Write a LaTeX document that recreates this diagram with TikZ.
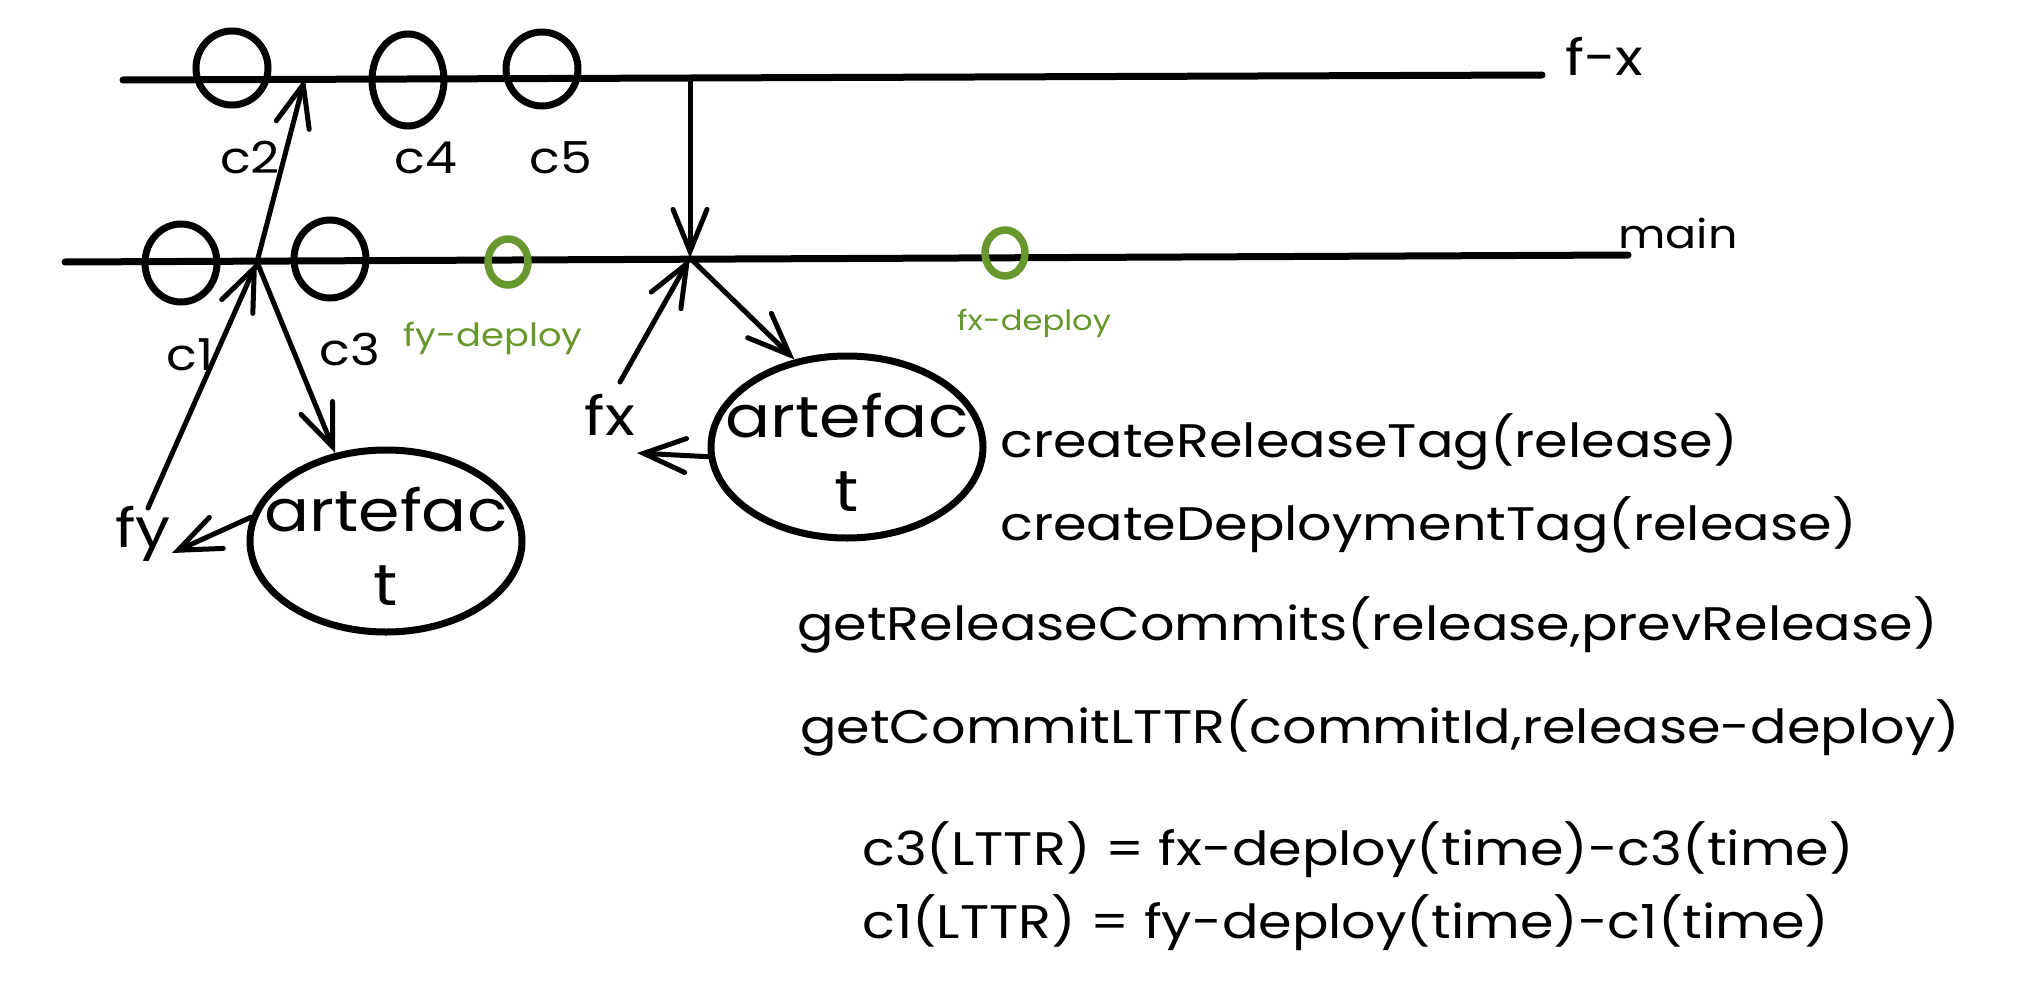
\documentclass[tikz,border=0pt]{standalone}
\usepackage{fontspec}
\setmainfont{Poppins}[FakeStretch=1.15]
\usetikzlibrary{shapes.geometric,arrows.meta}
\definecolor{grn}{RGB}{104,151,46}
\tikzset{
  branch/.style={line width=7pt, line cap=round},
  commit/.style={ellipse, draw, line width=7pt, inner sep=0pt},
  depc/.style={ellipse, draw=grn, line width=7.5pt, inner sep=0pt, minimum width=40pt, minimum height=46pt},
  artbox/.style={ellipse, draw, line width=7pt, inner sep=0pt, minimum width=272pt, minimum height=182pt},
  arttext/.style={inner sep=0pt, align=center, font=\fontsize{58}{74}\selectfont},
  flow/.style={line width=5pt, line cap=round, line join=round, -{Straight Barb[length=42pt,width=34pt,line width=5pt,line cap=round]}},
  lbl/.style={inner sep=0pt, anchor=base, font=\fontsize{44}{50}\selectfont},
  bigl/.style={inner sep=0pt, anchor=base, font=\fontsize{54}{60}\selectfont},
  brl/.style={inner sep=0pt, anchor=base west},
  depl/.style={inner sep=0pt, anchor=base, text=grn},
  code/.style={inner sep=0pt, anchor=base west, font=\fontsize{47}{60}\selectfont},
}
\begin{document}
\begin{tikzpicture}[x=1pt,y=-1pt]
\useasboundingbox (0,0) rectangle (2018,998);

% branch lines
\coordinate (fxa) at (123,80);
\coordinate (fxb) at (1542,75);
\coordinate (mna) at (65,262);
\coordinate (mnb) at (1628,255);
\draw[branch] (fxa) -- (fxb);
\draw[branch] (mna) -- (mnb);
\node[brl, font=\fontsize{50}{56}\selectfont] (fxlab) at (1565,76) {f-x};
\node[brl, font=\fontsize{40}{48}\selectfont] (mainlab) at (1618,248) {main};

% commits on f-x
\node[commit, minimum width=72pt, minimum height=74pt] (c2c) at (232,68) {};
\node[commit, minimum width=72pt, minimum height=92pt] (c4c) at (408,80) {};
\node[commit, minimum width=72pt, minimum height=74pt] (c5c) at (542,69) {};
% commits on main
\node[commit, minimum width=72pt, minimum height=78pt] (c1c) at (181,263) {};
\node[commit, minimum width=72pt, minimum height=78pt] (c3c) at (330,259) {};
\node[depc] (fyd) at (508,262) {};
\node[depc] (fxd) at (1005,253) {};

% labels
\node[lbl] (c2l) at (250,173) {c2};
\node[lbl] (c4l) at (426,173) {c4};
\node[lbl] (c5l) at (561,173) {c5};
\node[lbl] (c1l) at (190,370) {c1};
\node[lbl] (c3l) at (350,365) {c3};
\node[depl, font=\fontsize{32}{36}\selectfont] (fydl) at (493,346) {fy-deploy};
\node[depl, font=\fontsize{28}{32}\selectfont] (fxdl) at (1034,330) {fx-deploy};
\node[bigl] (fy) at (143,547) {fy};
\node[bigl] (fx) at (610,435) {fx};

% artefacts
\node[artbox] (art1) at (386,541) {};
\node[arttext] (art1t) at (386,546) {artefac\\t};
\node[artbox] (art2) at (847,447) {};
\node[arttext] (art2t) at (847,452) {artefac\\t};

% junctions
\coordinate (m1) at (257,262);
\coordinate (j1) at (305,78);
\coordinate (m2) at (690,258);
\coordinate (j2) at (690,78);
\coordinate (fys) at (148,508);
\coordinate (fyin) at (172,553);
\coordinate (fxs) at (620,382);
\coordinate (fxin) at (637,453);

% connectors
\draw[flow] (fys) -- (m1);
\draw[flow] (m1) -- (j1);
\draw[flow] (m1) -- (art1.120);
\draw[flow] (art1.170) -- (fyin);
\draw[flow] (j2) -- (m2);
\draw[flow] (fxs) -- (m2);
\draw[flow] (m2) -- (art2.121);
\draw[flow] (art2.184) -- (fxin);

% text on the right
\node[code] (t1) at (1000,457) {createReleaseTag(release)};
\node[code] (t2) at (1000,540) {createDeploymentTag(release)};
\node[code] (t3) at (797,640) {getReleaseCommits(release,prevRelease)};
\node[code] (t4) at (800,743) {getCommitLTTR(commitId,release-deploy)};
\node[code] (t5) at (862,865) {c3(LTTR) = fx-deploy(time)-c3(time)};
\node[code] (t6) at (862,938) {c1(LTTR) = fy-deploy(time)-c1(time)};
\end{tikzpicture}
\end{document}
